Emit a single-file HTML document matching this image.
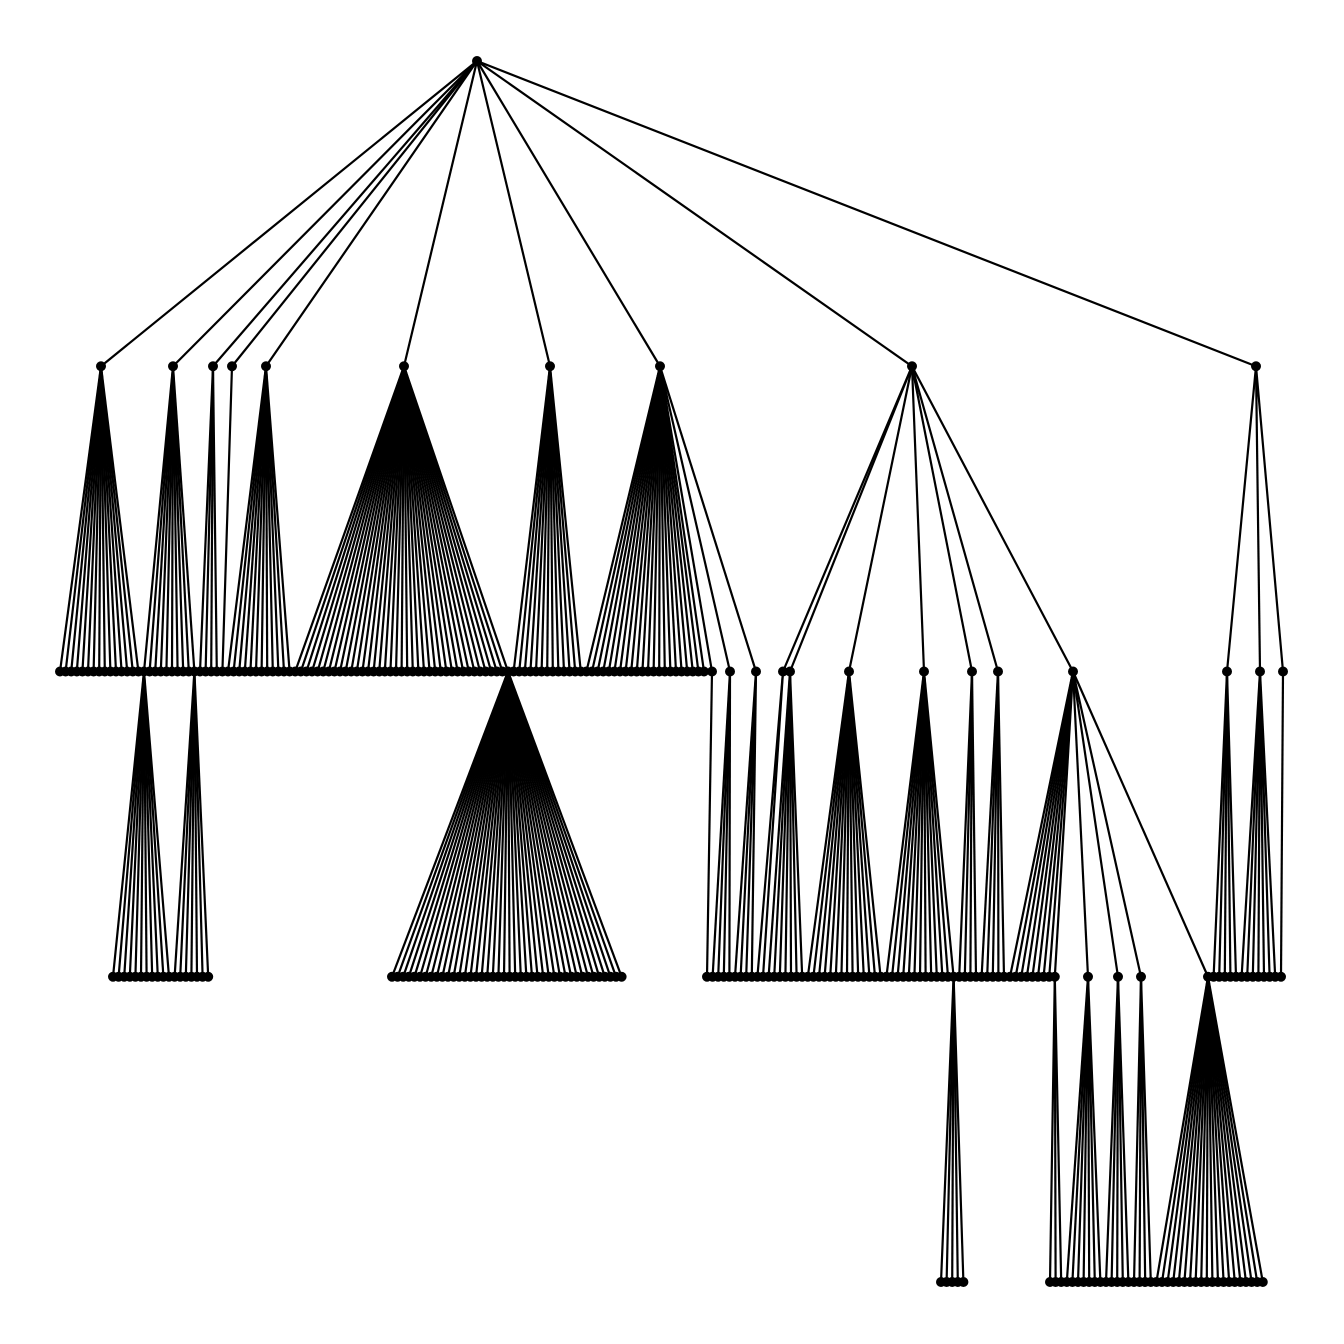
<!DOCTYPE html>
<html><head><meta charset="utf-8"><style>html,body{margin:0;background:#fff}svg{display:block}</style></head>
<body>
<svg id="c" width="1344" height="1344"></svg>
<script>
// groups: parent x, parent depth, first child x, child count (children on depth+1)
const parentX = [477,477,477,477,477,477,477,477,477,477,
  101,173,213,232,266,404,550,660,660,660,660,912,912,912,912,912,912,912,1256,1256,1256,
  144,194.4,508,712,730,756,783,790,849,924,972,998,1073,1073,1073,1073,1073,1227,1260,1283,
  953.6,1054.8,1088,1118,1141,1208];
const parentDepth = [0,0,0,0,0,0,0,0,0,0,
  1,1,1,1,1,1,1,1,1,1,1,1,1,1,1,1,1,1,1,1,1,
  2,2,2,2,2,2,2,2,2,2,2,2,2,2,2,2,2,2,2,2,
  3,3,3,3,3,3];
const childStart = [101,173,213,232,266,404,550,660,912,1256,
  60,144,200,222.4,228,295.2,513.6,586.4,712,730,756,783,790,849,924,972,998,1073,1227,1260,1283,
  113,174.6,392,707,712.6,735,757.4,768.6,807.8,886.4,959.2,981.6,1010,1088,1118,1141,1208,1213.6,1241.6,1281,
  941,1050,1066.8,1106,1134,1156.4];
const childCount = [1,1,1,1,1,1,1,1,1,1,
  15,10,4,1,12,39,13,22,1,1,1,1,1,1,1,1,1,1,1,1,1,
  11,7,42,1,4,4,2,7,14,13,4,5,9,1,1,1,1,5,7,1,
  5,3,7,5,4,20];
const step = 5.6;
const yOf = d => 61 + d * 305.25;
const svg = document.getElementById('c');
const NS = 'http://www.w3.org/2000/svg';
const edges = document.createElementNS(NS, 'g');


const nodes = document.createElementNS(NS, 'g');


svg.appendChild(edges); svg.appendChild(nodes);
const pts = [[477, 0]];
for (let g = 0; g < parentX.length; g++) {
  const px = parentX[g], py = yOf(parentDepth[g]), cy = yOf(parentDepth[g] + 1);
  for (let i = 0; i < childCount[g]; i++) {
    const cx = childStart[g] + i * step;
    const l = document.createElementNS(NS, 'line');
    l.setAttribute('x1', px); l.setAttribute('y1', py);
    l.setAttribute('x2', cx); l.setAttribute('y2', cy);
    l.setAttribute('stroke', '#000'); l.setAttribute('stroke-width', '2.2');
    
    
    edges.appendChild(l);
    pts.push([cx, parentDepth[g] + 1]);
  }
}
for (const [x, d] of pts) {
  const c = document.createElementNS(NS, 'circle');
  c.setAttribute('cx', x); c.setAttribute('cy', yOf(d)); c.setAttribute('r', 5);
  c.setAttribute('fill', '#000');
  
  
  nodes.appendChild(c);
}
</script>
</body></html>
